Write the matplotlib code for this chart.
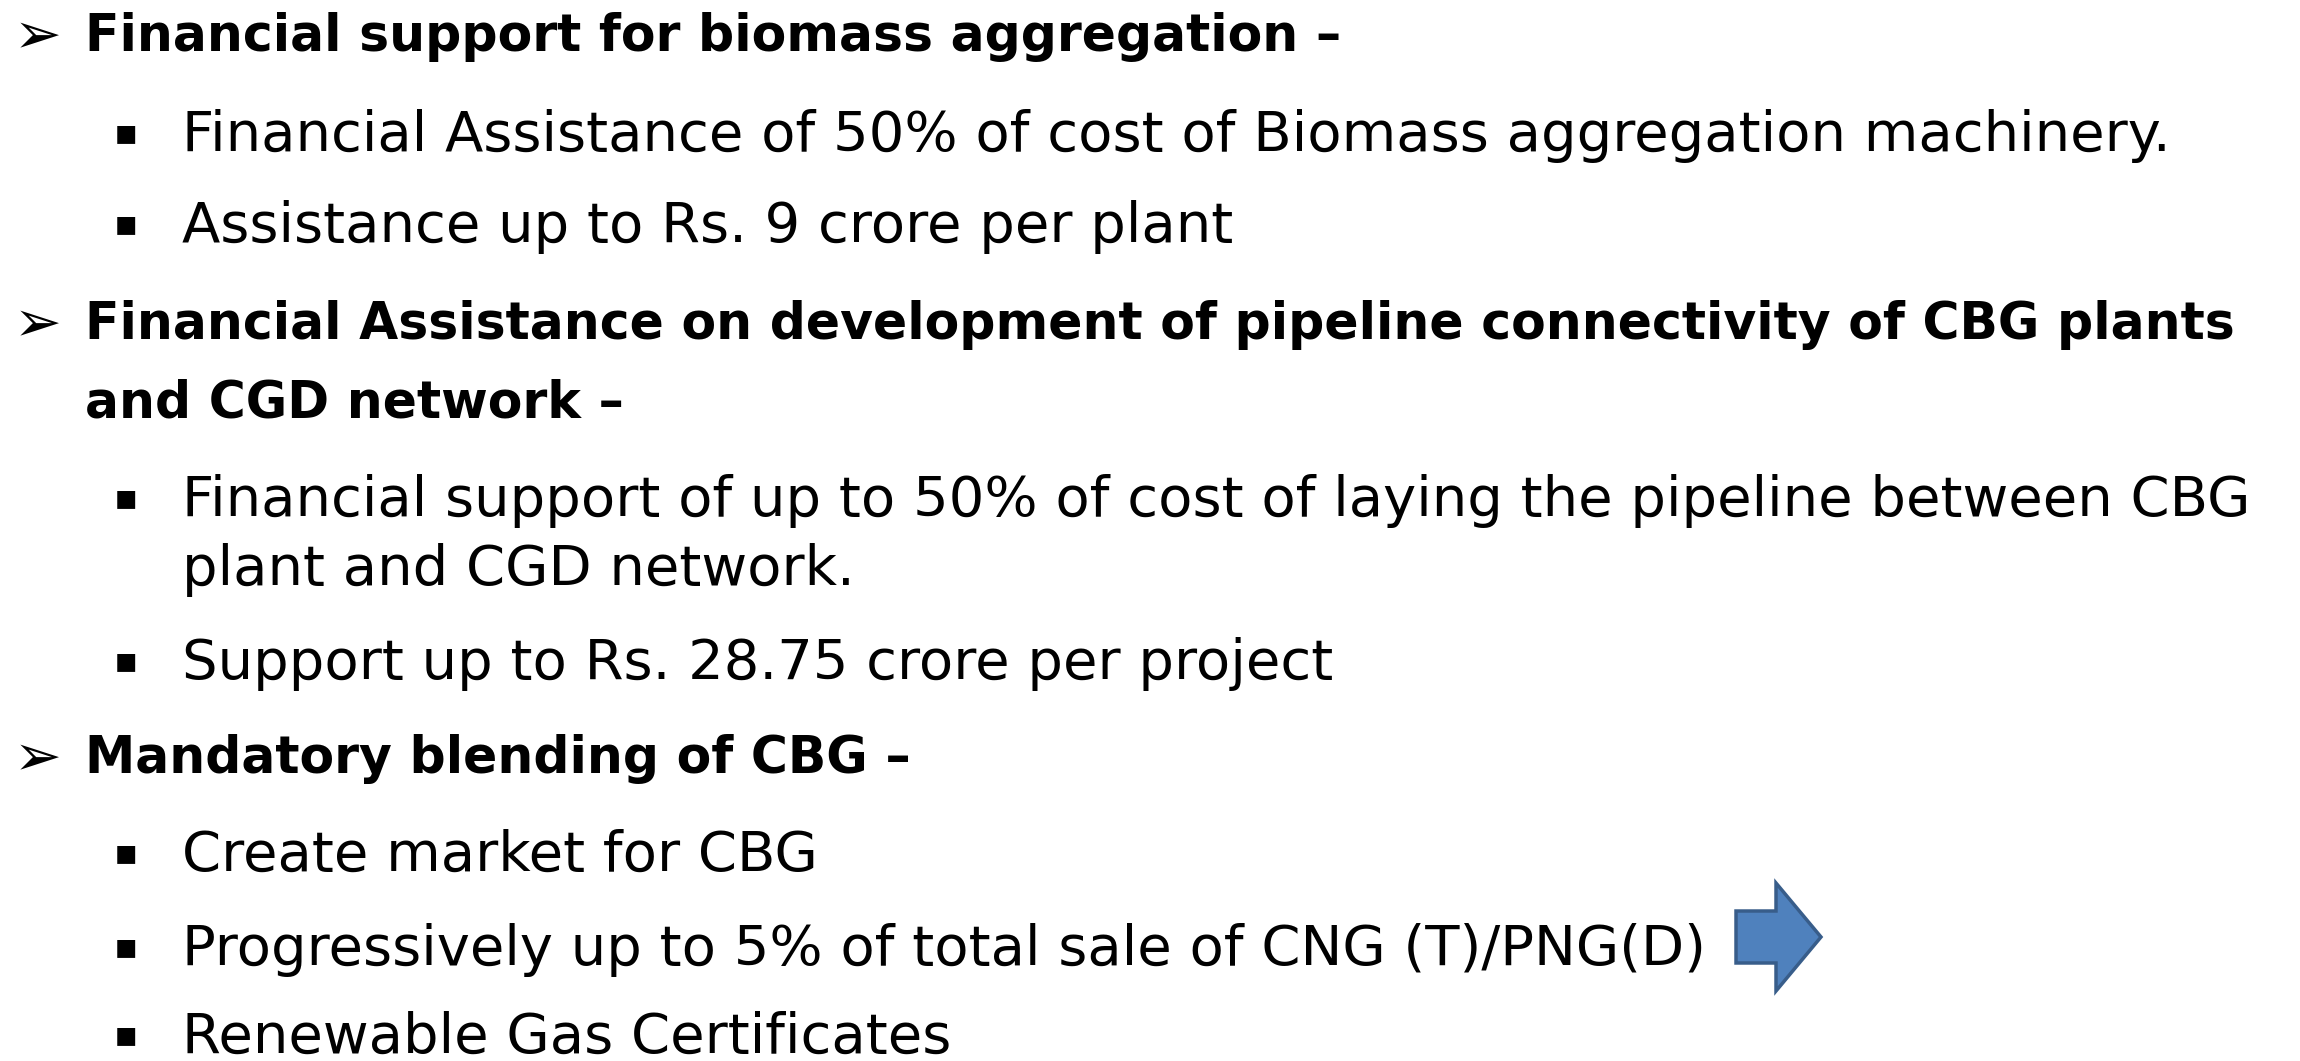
import matplotlib
matplotlib.use("Agg")
import matplotlib.pyplot as plt
from matplotlib.patches import Polygon

W, H = 2300, 1061

# slide text, one entry per printed line
headings = [
    "Financial support for biomass aggregation \u2013",
    "Financial Assistance on development of pipeline connectivity of CBG plants",
    "and CGD network \u2013",
    "Mandatory blending of CBG \u2013",
]
heading_bullet = [True, True, False, True]
heading_base = [51, 339, 417, 773]

points = [
    "Financial Assistance of 50% of cost of Biomass aggregation machinery.",
    "Assistance up to Rs. 9 crore per plant",
    "Financial support of up to 50% of cost of laying the pipeline between CBG",
    "plant and CGD network.",
    "Support up to Rs. 28.75 crore per project",
    "Create market for CBG",
    "Progressively up to 5% of total sale of CNG (T)/PNG(D)",
    "Renewable Gas Certificates",
]
point_bullet = [True, True, True, False, True, True, True, True]
point_base = [151, 242, 516, 585, 679, 871, 965, 1053]

fig = plt.figure(figsize=(W / 100, H / 100), dpi=100)
ax = fig.add_axes([0, 0, 1, 1])
ax.set_xlim(0, W)
ax.set_ylim(H, 0)
ax.axis("off")

for txt, b, y in zip(headings, heading_bullet, heading_base):
    if b:
        ax.text(14, y + 2, "\u27a2", fontsize=41, fontweight="bold",
                va="baseline", ha="left", family="DejaVu Sans", color="black")
    ax.text(85, y, txt, fontsize=36.4, fontweight="bold", va="baseline",
            ha="left", family="DejaVu Sans", color="black")

for txt, b, y in zip(points, point_bullet, point_base):
    if b:
        ax.text(114, y - 8, "\u25aa", fontsize=26, va="baseline", ha="left",
                family="DejaVu Sans", color="black")
    ax.text(182, y, txt, fontsize=40.3, va="baseline", ha="left",
            family="DejaVu Sans", color="black")

# block arrow next to the CNG/PNG line
x0, x1, xh = 1736, 1821, 1776
yt, yb, st, sb = 883, 991, 911, 963
arrow = Polygon([(x0, st), (xh, st), (xh, yt), (x1, (yt + yb) / 2),
                 (xh, yb), (xh, sb), (x0, sb)], closed=True,
                facecolor="#4F81BD", edgecolor="#385D8A", linewidth=2.5)
ax.add_patch(arrow)

fig.savefig("out.png", dpi=100, facecolor="white")
